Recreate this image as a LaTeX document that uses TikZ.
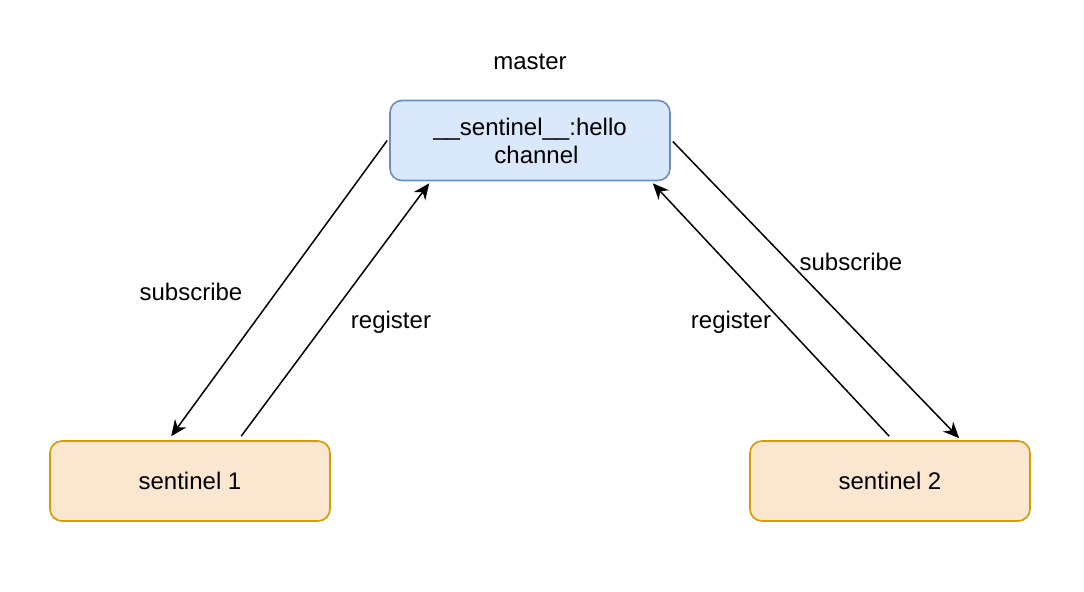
\documentclass[tikz,border=0pt]{standalone}
\usepackage{fontspec}
\setmainfont{Liberation Sans}
\usetikzlibrary{arrows.meta,calc}
\definecolor{bluefill}{HTML}{DAE8FC}
\definecolor{bluedraw}{HTML}{6C8EBF}
\definecolor{orangefill}{HTML}{FBE6CF}
\definecolor{orangedraw}{HTML}{D79B00}
\tikzset{
  box/.style={rounded corners=6pt, line width=0.8pt, minimum width=140pt, minimum height=40pt, inner sep=0pt, align=center, font=\fontsize{12pt}{14pt}\selectfont},
  masterbox/.style={box, fill=bluefill, draw=bluedraw},
  sentbox/.style={box, fill=orangefill, draw=orangedraw},
  conn/.style={line width=0.75pt, -{Stealth[length=8pt,width=7pt,inset=2.5pt]}},
  lbl/.style={font=\fontsize{12pt}{14pt}\selectfont, inner sep=0pt}
}
\begin{document}
\begin{tikzpicture}[x=0.5pt,y=-0.5pt]
\useasboundingbox (0,0) rectangle (1084,592);
\node[masterbox] (m) at (530,140.5) {\_\_sentinel\_\_:hello\hspace{2.5pt}\\\hspace{6.5pt}channel};
\node[sentbox] (s1) at (190,481) {sentinel 1};
\node[sentbox] (s2) at (890,481) {sentinel 2};
\node[lbl] (mt) at (530,62) {master};
\draw[conn] ($(m.west)+(-2,0)$) -- ($(s1.north west)+(122,-4)$);
\draw[conn] ($(s1.north west)+(192,-4)$) -- ($(m.south west)+(40,2)$);
\draw[conn] ($(s2.north west)+(140,-4)$) -- ($(m.south east)+(-18,2)$);
\draw[conn] ($(m.east)+(2,1)$) -- ($(s2.north west)+(210,-2)$);
\node[lbl] (l1) at (191,292) {subscribe};
\node[lbl] (l2) at (391,322) {register};
\node[lbl] (l3) at (731,322) {register};
\node[lbl] (l4) at (851,262) {subscribe};
\end{tikzpicture}
\end{document}
